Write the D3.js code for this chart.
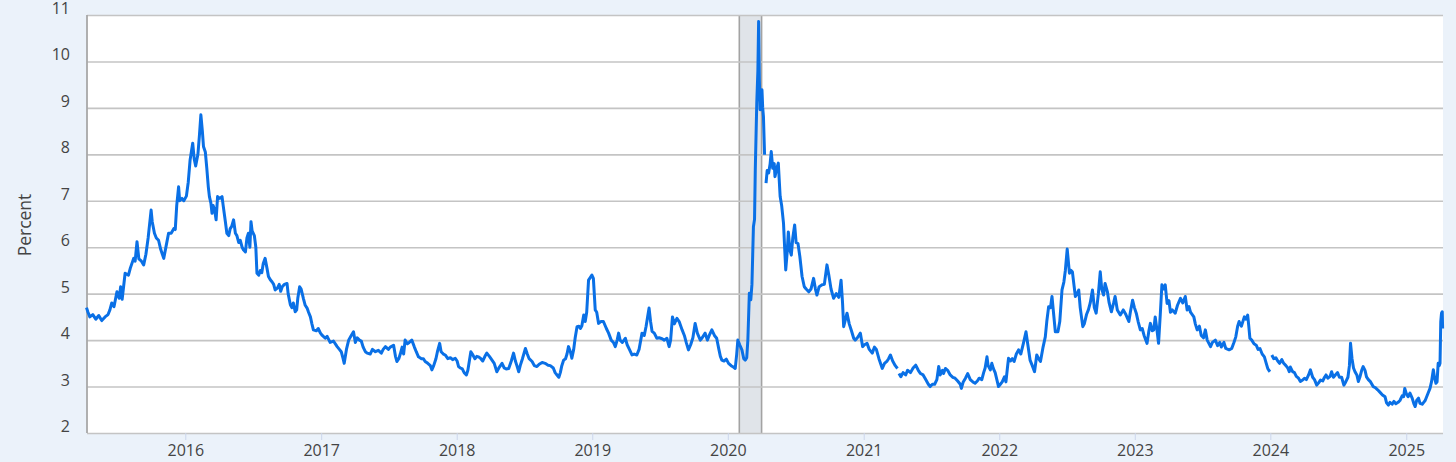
<!DOCTYPE html>
<html>
<head>
<meta charset="utf-8">
<script src="https://cdn.jsdelivr.net/npm/d3@7"></script>
<style>
  html, body { margin: 0; padding: 0; background: #ebf2fa; }
  svg { display: block; font-family: "Open Sans", "Noto Sans", sans-serif; }
</style>
</head>
<body>
<svg id="chart" width="1456" height="462"></svg>
<script>
// ---------------- DATA ----------------
const yTicks = [2, 3, 4, 5, 6, 7, 8, 9, 10, 11];
const xTickYears = [2016, 2017, 2018, 2019, 2020, 2021, 2022, 2023, 2024, 2025];
const yAxisTitle = "Percent";
const recession = ["2020-02-01", "2020-04-01"];
const dateRange = ["2015-04-10", "2025-04-10"];

const obs2015 = [
  ["2015-04-10",4.70],["2015-04-14",4.60],["2015-04-19",4.50],["2015-04-27",4.55],["2015-05-05",4.45],
  ["2015-05-13",4.53],["2015-05-21",4.42],["2015-05-30",4.50],["2015-06-07",4.55],["2015-06-12",4.65],
  ["2015-06-17",4.80],["2015-06-23",4.72],["2015-07-01",5.04],["2015-07-07",4.90],["2015-07-11",5.15],
  ["2015-07-15",4.88],["2015-07-23",5.44],["2015-08-01",5.40],["2015-08-06",5.55],["2015-08-15",5.76],
  ["2015-08-19",5.70],["2015-08-24",6.12],["2015-08-29",5.75],["2015-09-05",5.70],["2015-09-11",5.62],
  ["2015-09-17",5.85],["2015-09-23",6.20],["2015-10-01",6.80],["2015-10-04",6.55],["2015-10-10",6.30],
  ["2015-10-15",6.20],["2015-10-21",6.15],["2015-10-27",5.95],["2015-11-04",5.76],["2015-11-11",6.05],
  ["2015-11-17",6.30],["2015-11-24",6.30],["2015-12-01",6.40],["2015-12-05",6.38],["2015-12-09",6.90],
  ["2015-12-14",7.30],["2015-12-17",7.00],["2015-12-23",7.05],["2015-12-28",7.00]
];
const obs2016 = [
  ["2016-01-04",7.10],["2016-01-09",7.40],["2016-01-14",7.88],["2016-01-21",8.24],["2016-01-25",7.90],
  ["2016-01-29",7.75],["2016-02-04",8.00],["2016-02-08",8.40],["2016-02-12",8.85],["2016-02-16",8.50],
  ["2016-02-19",8.17],["2016-02-24",8.05],["2016-02-28",7.70],["2016-03-03",7.30],["2016-03-06",7.09],
  ["2016-03-10",6.95],["2016-03-13",6.73],["2016-03-16",6.90],["2016-03-20",6.80],["2016-03-24",6.59],
  ["2016-03-28",7.09],["2016-04-03",7.05],["2016-04-09",7.09],["2016-04-12",6.90],["2016-04-18",6.55],
  ["2016-04-22",6.30],["2016-04-27",6.25],["2016-05-01",6.40],["2016-05-05",6.45],["2016-05-10",6.59],
  ["2016-05-15",6.30],["2016-05-19",6.25],["2016-05-24",6.10],["2016-05-28",6.15],["2016-06-02",6.00],
  ["2016-06-06",5.94],["2016-06-11",5.90],["2016-06-15",6.20],["2016-06-19",6.30],["2016-06-23",6.00],
  ["2016-06-26",6.55],["2016-06-29",6.35],["2016-07-05",6.25],["2016-07-09",6.00],["2016-07-12",5.44],
  ["2016-07-17",5.40],["2016-07-21",5.50],["2016-07-25",5.45],["2016-07-29",5.65],["2016-08-03",5.76],
  ["2016-08-08",5.55],["2016-08-12",5.37],["2016-08-17",5.30],["2016-08-22",5.25],["2016-08-26",5.20],
  ["2016-08-30",5.08],["2016-09-05",5.12],["2016-09-10",5.20],["2016-09-14",5.05],["2016-09-18",5.15],
  ["2016-09-24",5.20],["2016-10-01",5.22],["2016-10-04",5.00],["2016-10-10",4.76],["2016-10-14",4.70],
  ["2016-10-18",4.80],["2016-10-23",4.61],["2016-10-27",4.65],["2016-10-30",4.90],["2016-11-04",5.15],
  ["2016-11-08",5.10],["2016-11-14",4.90],["2016-11-19",4.75],["2016-11-24",4.69],["2016-11-28",4.60],
  ["2016-12-03",4.50],["2016-12-07",4.35],["2016-12-11",4.22],["2016-12-19",4.20],["2016-12-24",4.25],
  ["2016-12-30",4.15]
];
const obs2017 = [
  ["2017-01-04",4.10],["2017-01-12",4.04],["2017-01-17",4.08],["2017-01-25",3.95],["2017-02-03",3.98],
  ["2017-02-13",3.86],["2017-02-19",3.80],["2017-02-24",3.75],["2017-03-01",3.60],["2017-03-04",3.50],
  ["2017-03-10",3.80],["2017-03-16",4.00],["2017-03-23",4.10],["2017-03-29",4.18],["2017-04-03",3.95],
  ["2017-04-08",4.05],["2017-04-14",4.00],["2017-04-19",3.98],["2017-04-24",3.85],["2017-04-30",3.75],
  ["2017-05-05",3.72],["2017-05-13",3.70],["2017-05-19",3.80],["2017-05-27",3.75],["2017-06-04",3.78],
  ["2017-06-12",3.72],["2017-06-17",3.80],["2017-06-23",3.86],["2017-07-01",3.80],["2017-07-06",3.85],
  ["2017-07-15",3.89],["2017-07-20",3.65],["2017-07-24",3.54],["2017-07-29",3.60],["2017-08-02",3.70],
  ["2017-08-07",3.85],["2017-08-11",3.70],["2017-08-15",4.00],["2017-08-21",3.92],["2017-08-26",3.95],
  ["2017-09-02",4.00],["2017-09-09",3.85],["2017-09-14",3.75],["2017-09-20",3.64],["2017-09-28",3.60],
  ["2017-10-03",3.60],["2017-10-08",3.54],["2017-10-15",3.50],["2017-10-22",3.45],["2017-10-26",3.36],
  ["2017-10-31",3.45],["2017-11-06",3.60],["2017-11-10",3.75],["2017-11-16",3.93],["2017-11-20",3.75],
  ["2017-11-26",3.70],["2017-12-01",3.68],["2017-12-08",3.60],["2017-12-15",3.62],["2017-12-21",3.58],
  ["2017-12-28",3.61]
];
const obs2018 = [
  ["2018-01-02",3.55],["2018-01-06",3.43],["2018-01-11",3.40],["2018-01-16",3.38],["2018-01-21",3.30],
  ["2018-01-27",3.25],["2018-01-31",3.35],["2018-02-04",3.55],["2018-02-08",3.75],["2018-02-12",3.70],
  ["2018-02-19",3.60],["2018-02-24",3.65],["2018-03-01",3.64],["2018-03-07",3.60],["2018-03-12",3.55],
  ["2018-03-18",3.65],["2018-03-23",3.72],["2018-03-30",3.65],["2018-04-06",3.57],["2018-04-12",3.50],
  ["2018-04-19",3.32],["2018-04-26",3.42],["2018-05-03",3.50],["2018-05-09",3.40],["2018-05-14",3.38],
  ["2018-05-21",3.39],["2018-05-28",3.55],["2018-06-03",3.72],["2018-06-08",3.55],["2018-06-12",3.45],
  ["2018-06-17",3.32],["2018-06-21",3.45],["2018-06-27",3.60],["2018-07-05",3.82],["2018-07-10",3.70],
  ["2018-07-15",3.60],["2018-07-23",3.54],["2018-07-29",3.45],["2018-08-05",3.43],["2018-08-11",3.48],
  ["2018-08-19",3.52],["2018-08-27",3.50],["2018-09-04",3.46],["2018-09-10",3.45],["2018-09-18",3.40],
  ["2018-09-23",3.30],["2018-09-28",3.25],["2018-10-03",3.20],["2018-10-07",3.30],["2018-10-11",3.45],
  ["2018-10-16",3.57],["2018-10-21",3.60],["2018-10-25",3.70],["2018-10-29",3.86],["2018-11-03",3.75],
  ["2018-11-07",3.61],["2018-11-12",3.80],["2018-11-16",4.05],["2018-11-21",4.29],["2018-11-26",4.30],
  ["2018-11-30",4.25],["2018-12-04",4.31],["2018-12-09",4.54],["2018-12-13",4.40],["2018-12-17",4.60],
  ["2018-12-22",5.29],["2018-12-27",5.35],["2018-12-31",5.40]
];
const obs2019 = [
  ["2019-01-04",5.33],["2019-01-09",4.65],["2019-01-13",4.60],["2019-01-18",4.36],["2019-01-24",4.40],
  ["2019-01-31",4.40],["2019-02-08",4.25],["2019-02-14",4.15],["2019-02-21",4.00],["2019-02-27",3.95],
  ["2019-03-04",3.86],["2019-03-09",4.00],["2019-03-13",4.15],["2019-03-17",4.00],["2019-03-23",3.95],
  ["2019-03-31",4.04],["2019-04-05",3.90],["2019-04-11",3.80],["2019-04-18",3.68],["2019-04-24",3.70],
  ["2019-05-01",3.68],["2019-05-07",3.80],["2019-05-15",4.15],["2019-05-21",4.10],["2019-05-26",4.30],
  ["2019-05-30",4.50],["2019-06-03",4.69],["2019-06-07",4.40],["2019-06-11",4.19],["2019-06-17",4.15],
  ["2019-06-24",4.04],["2019-06-30",4.05],["2019-07-08",4.03],["2019-07-14",4.00],["2019-07-21",4.04],
  ["2019-07-27",3.86],["2019-07-31",4.00],["2019-08-05",4.50],["2019-08-10",4.35],["2019-08-17",4.47],
  ["2019-08-23",4.40],["2019-08-31",4.22],["2019-09-06",4.10],["2019-09-11",3.95],["2019-09-17",3.79],
  ["2019-09-23",3.90],["2019-09-29",4.05],["2019-10-05",4.36],["2019-10-11",4.15],["2019-10-19",4.00],
  ["2019-10-24",4.05],["2019-11-01",4.15],["2019-11-07",4.00],["2019-11-12",4.10],["2019-11-19",4.22],
  ["2019-11-26",4.10],["2019-12-02",4.04],["2019-12-08",3.80],["2019-12-12",3.65],["2019-12-16",3.57],
  ["2019-12-22",3.55],["2019-12-28",3.59]
];
const obs2020 = [
  ["2020-01-03",3.50],["2020-01-10",3.45],["2020-01-16",3.42],["2020-01-21",3.39],["2020-01-25",3.70],
  ["2020-01-28",4.00],["2020-02-02",3.90],["2020-02-08",3.79],["2020-02-13",3.60],["2020-02-17",3.57],
  ["2020-02-21",3.62],["2020-02-24",4.00],["2020-02-28",5.01],["2020-03-03",4.87],["2020-03-06",5.20],
  ["2020-03-10",6.44],["2020-03-13",6.60],["2020-03-15",7.66],["2020-03-19",9.10],["2020-03-22",9.80],
  ["2020-03-24",10.86],["2020-03-26",9.60],["2020-03-28",8.96],["2020-03-31",9.10],["2020-04-02",9.39],
  ["2020-04-04",9.00],["2020-04-06",8.81],["2020-04-09",7.99],["2020-04-10",null],["2020-04-13",7.38],
  ["2020-04-16",7.65],["2020-04-20",7.60],["2020-04-24",7.80],["2020-04-27",8.06],["2020-05-01",7.70],
  ["2020-05-05",7.80],["2020-05-07",7.52],["2020-05-12",7.70],["2020-05-16",7.81],["2020-05-21",7.09],
  ["2020-05-25",6.90],["2020-05-30",6.52],["2020-06-02",6.00],["2020-06-05",5.51],["2020-06-09",5.90],
  ["2020-06-12",6.33],["2020-06-16",5.95],["2020-06-20",5.83],["2020-06-24",6.20],["2020-06-29",6.48],
  ["2020-07-03",6.10],["2020-07-08",6.08],["2020-07-13",5.80],["2020-07-19",5.37],["2020-07-25",5.15],
  ["2020-07-30",5.10],["2020-08-06",5.04],["2020-08-12",5.10],["2020-08-19",5.33],["2020-08-24",5.10],
  ["2020-08-28",4.97],["2020-09-03",5.15],["2020-09-11",5.19],["2020-09-17",5.20],["2020-09-24",5.62],
  ["2020-09-29",5.40],["2020-10-05",5.10],["2020-10-12",4.90],["2020-10-19",5.00],["2020-10-26",4.92],
  ["2020-11-01",5.29],["2020-11-05",4.80],["2020-11-08",4.29],["2020-11-13",4.45],["2020-11-17",4.58],
  ["2020-11-23",4.35],["2020-11-29",4.20],["2020-12-05",4.04],["2020-12-09",4.00],["2020-12-15",4.05],
  ["2020-12-23",4.15],["2020-12-29",3.86]
];
const obs2021 = [
  ["2021-01-03",3.90],["2021-01-10",3.93],["2021-01-16",3.80],["2021-01-24",3.72],["2021-01-30",3.85],
  ["2021-02-04",3.80],["2021-02-11",3.60],["2021-02-20",3.39],["2021-02-26",3.50],["2021-03-05",3.55],
  ["2021-03-09",3.60],["2021-03-14",3.68],["2021-03-20",3.55],["2021-03-27",3.45],["2021-04-02",3.39],
  ["2021-04-04",null],["2021-04-06",3.28],["2021-04-11",3.21],["2021-04-17",3.30],["2021-04-24",3.25],
  ["2021-04-29",3.35],["2021-05-07",3.30],["2021-05-14",3.40],["2021-05-21",3.46],["2021-05-28",3.35],
  ["2021-06-03",3.28],["2021-06-10",3.25],["2021-06-17",3.15],["2021-06-24",3.05],["2021-06-29",3.00],
  ["2021-07-05",3.05],["2021-07-11",3.05],["2021-07-17",3.15],["2021-07-22",3.43],["2021-07-26",3.25],
  ["2021-08-01",3.35],["2021-08-04",3.28],["2021-08-09",3.39],["2021-08-15",3.35],["2021-08-22",3.25],
  ["2021-08-29",3.20],["2021-09-04",3.18],["2021-09-11",3.12],["2021-09-18",3.05],["2021-09-21",2.96],
  ["2021-09-26",3.10],["2021-10-02",3.18],["2021-10-08",3.28],["2021-10-15",3.15],["2021-10-22",3.10],
  ["2021-10-28",3.07],["2021-11-03",3.12],["2021-11-08",3.18],["2021-11-15",3.15],["2021-11-20",3.30],
  ["2021-11-24",3.40],["2021-11-29",3.64],["2021-12-02",3.45],["2021-12-08",3.36],["2021-12-12",3.50],
  ["2021-12-16",3.39],["2021-12-21",3.30],["2021-12-27",3.10],["2021-12-30",3.00]
];
const obs2022 = [
  ["2022-01-04",3.05],["2022-01-09",3.10],["2022-01-15",3.21],["2022-01-19",3.10],["2022-01-23",3.40],
  ["2022-01-26",3.61],["2022-01-31",3.55],["2022-02-05",3.60],["2022-02-10",3.54],["2022-02-16",3.70],
  ["2022-02-22",3.79],["2022-02-28",3.70],["2022-03-07",3.93],["2022-03-14",4.18],["2022-03-19",3.90],
  ["2022-03-25",3.57],["2022-03-31",3.45],["2022-04-06",3.32],["2022-04-12",3.68],["2022-04-17",3.60],
  ["2022-04-22",3.54],["2022-04-29",3.85],["2022-05-05",4.07],["2022-05-09",4.40],["2022-05-14",4.72],
  ["2022-05-19",4.70],["2022-05-23",4.94],["2022-05-27",4.60],["2022-06-01",4.18],["2022-06-08",4.18],
  ["2022-06-13",4.40],["2022-06-19",5.08],["2022-06-24",5.25],["2022-06-28",5.50],["2022-07-03",5.96],
  ["2022-07-06",5.70],["2022-07-09",5.44],["2022-07-13",5.50],["2022-07-17",5.47],["2022-07-21",5.20],
  ["2022-07-25",4.94],["2022-07-30",5.00],["2022-08-03",5.08],["2022-08-07",4.70],["2022-08-14",4.29],
  ["2022-08-18",4.35],["2022-08-24",4.55],["2022-08-29",4.65],["2022-09-03",4.80],["2022-09-09",5.08],
  ["2022-09-14",4.70],["2022-09-19",4.58],["2022-09-25",5.00],["2022-09-30",5.47],["2022-10-04",5.10],
  ["2022-10-09",4.97],["2022-10-13",5.22],["2022-10-19",5.05],["2022-10-24",4.80],["2022-10-30",4.61],
  ["2022-11-05",4.80],["2022-11-09",4.94],["2022-11-15",4.65],["2022-11-23",4.54],["2022-12-01",4.65],
  ["2022-12-08",4.55],["2022-12-16",4.40],["2022-12-20",4.60],["2022-12-26",4.86],["2022-12-31",4.70]
];
const obs2023 = [
  ["2023-01-05",4.58],["2023-01-10",4.40],["2023-01-16",4.22],["2023-01-21",4.25],["2023-01-26",4.10],
  ["2023-02-03",3.93],["2023-02-08",4.20],["2023-02-12",4.36],["2023-02-17",4.20],["2023-02-21",4.22],
  ["2023-02-25",4.50],["2023-03-02",4.20],["2023-03-06",3.93],["2023-03-11",4.60],["2023-03-15",5.19],
  ["2023-03-20",5.10],["2023-03-24",5.19],["2023-03-29",4.79],["2023-04-03",4.85],["2023-04-07",4.60],
  ["2023-04-12",4.65],["2023-04-20",4.58],["2023-04-26",4.75],["2023-05-04",4.90],["2023-05-10",4.80],
  ["2023-05-17",4.94],["2023-05-22",4.65],["2023-05-27",4.72],["2023-05-31",4.60],["2023-06-09",4.50],
  ["2023-06-13",4.35],["2023-06-18",4.22],["2023-06-24",4.30],["2023-06-29",4.10],["2023-07-05",4.05],
  ["2023-07-10",4.22],["2023-07-15",4.00],["2023-07-24",3.86],["2023-07-29",3.95],["2023-08-06",4.00],
  ["2023-08-12",3.88],["2023-08-18",3.95],["2023-08-22",3.85],["2023-08-29",3.95],["2023-09-03",3.82],
  ["2023-09-12",3.79],["2023-09-19",3.82],["2023-09-25",3.95],["2023-09-30",4.07],["2023-10-05",4.30],
  ["2023-10-09",4.40],["2023-10-15",4.30],["2023-10-23",4.50],["2023-10-27",4.45],["2023-11-01",4.54],
  ["2023-11-04",4.30],["2023-11-07",4.04],["2023-11-12",4.00],["2023-11-18",3.92],["2023-11-24",3.89],
  ["2023-11-29",3.80],["2023-12-04",3.82],["2023-12-10",3.70],["2023-12-16",3.64],["2023-12-21",3.50],
  ["2023-12-25",3.39],["2023-12-28",3.35],["2023-12-31",3.32]
];
const obs2024 = [
  ["2024-01-02",null],["2024-01-05",3.68],["2024-01-10",3.60],["2024-01-16",3.62],["2024-01-21",3.55],
  ["2024-01-26",3.50],["2024-02-01",3.58],["2024-02-06",3.50],["2024-02-12",3.45],["2024-02-17",3.40],
  ["2024-02-21",3.32],["2024-02-24",3.42],["2024-03-01",3.32],["2024-03-06",3.30],["2024-03-11",3.22],
  ["2024-03-17",3.18],["2024-03-22",3.11],["2024-03-28",3.14],["2024-04-02",3.18],["2024-04-07",3.15],
  ["2024-04-13",3.25],["2024-04-18",3.36],["2024-04-24",3.20],["2024-04-29",3.15],["2024-05-05",3.03],
  ["2024-05-10",3.08],["2024-05-15",3.14],["2024-05-21",3.12],["2024-05-26",3.20],["2024-05-30",3.25],
  ["2024-06-04",3.18],["2024-06-10",3.22],["2024-06-14",3.32],["2024-06-19",3.20],["2024-06-24",3.25],
  ["2024-06-30",3.30],["2024-07-05",3.20],["2024-07-11",3.20],["2024-07-17",3.03],["2024-07-22",3.10],
  ["2024-07-28",3.20],["2024-08-01",3.45],["2024-08-04",3.93],["2024-08-08",3.60],["2024-08-12",3.40],
  ["2024-08-16",3.32],["2024-08-21",3.25],["2024-08-25",3.11],["2024-08-29",3.20],["2024-09-03",3.35],
  ["2024-09-07",3.43],["2024-09-12",3.35],["2024-09-16",3.21],["2024-09-21",3.15],["2024-09-27",3.10],
  ["2024-10-04",3.00],["2024-10-09",2.98],["2024-10-16",2.93],["2024-10-22",2.88],["2024-10-29",2.82],
  ["2024-11-05",2.78],["2024-11-09",2.65],["2024-11-14",2.60],["2024-11-18",2.66],["2024-11-24",2.62],
  ["2024-11-29",2.68],["2024-12-04",2.63],["2024-12-10",2.66],["2024-12-15",2.70],["2024-12-21",2.80],
  ["2024-12-25",2.78],["2024-12-28",2.96]
];
const obs2025 = [
  ["2025-01-01",2.85],["2025-01-06",2.78],["2025-01-11",2.86],["2025-01-17",2.75],["2025-01-22",2.62],
  ["2025-01-25",2.57],["2025-01-29",2.70],["2025-02-03",2.75],["2025-02-07",2.64],["2025-02-13",2.62],
  ["2025-02-17",2.66],["2025-02-21",2.70],["2025-02-25",2.78],["2025-03-01",2.86],["2025-03-06",2.96],
  ["2025-03-10",3.10],["2025-03-15",3.36],["2025-03-18",3.20],["2025-03-22",3.07],["2025-03-25",3.10],
  ["2025-03-28",3.50],["2025-03-31",3.45],["2025-04-02",3.50],["2025-04-04",4.40],["2025-04-06",4.58],
  ["2025-04-08",4.61],["2025-04-09",4.25]
];

// ---------------- CHART ----------------
const parse = d3.utcParse("%Y-%m-%d");
const series = [].concat(obs2015, obs2016, obs2017, obs2018, obs2019, obs2020,
                         obs2021, obs2022, obs2023, obs2024, obs2025)
  .map(d => ({ date: parse(d[0]), value: d[1] }));

const plot = { left: 87, right: 1443, top: 15, bottom: 433 };
const svg = d3.select("#chart");

const x = d3.scaleUtc()
  .domain(dateRange.map(parse))
  .range([86.5, 1443]);
const y = d3.scaleLinear()
  .domain([d3.min(yTicks), d3.max(yTicks)])
  .range([plot.bottom, plot.top]);

// page background
svg.append("rect").attr("x", 0).attr("y", 0).attr("width", 1456).attr("height", 462)
  .attr("fill", "#ebf2fa");
// plot background
svg.append("rect")
  .attr("x", plot.left).attr("y", plot.top)
  .attr("width", plot.right - plot.left).attr("height", plot.bottom - plot.top)
  .attr("fill", "#ffffff");

// recession band
const rx0 = x(parse(recession[0])), rx1 = x(parse(recession[1]));
svg.append("rect")
  .attr("x", rx0).attr("y", plot.top)
  .attr("width", rx1 - rx0).attr("height", plot.bottom - plot.top)
  .attr("fill", "#e0e4e9");
[rx0, rx1].forEach(px => {
  svg.append("line")
    .attr("x1", px).attr("x2", px).attr("y1", plot.top).attr("y2", plot.bottom)
    .attr("stroke", "#a3a3a3").attr("stroke-width", 1.6);
});

// y axis with gridlines
const yAxis = d3.axisLeft(y)
  .tickValues(yTicks)
  .tickFormat(d3.format("d"))
  .tickSizeInner(-(plot.right - plot.left))
  .tickSizeOuter(0)
  .tickPadding(17);
const gy = svg.append("g").attr("transform", `translate(${plot.left},0)`).call(yAxis);
gy.select(".domain").remove();
gy.selectAll(".tick line").attr("stroke", "#c4c4c4").attr("stroke-width", 1.6);
gy.selectAll(".tick text")
  .attr("fill", "#444").attr("font-size", 16).attr("dy", "-1.5px")
  .style("font-family", "'Open Sans', sans-serif");

// x axis
const xAxis = d3.axisBottom(x)
  .tickValues(xTickYears.map(yr => new Date(Date.UTC(yr, 0, 1))))
  .tickFormat(d3.utcFormat("%Y"))
  .tickSizeInner(7)
  .tickSizeOuter(0)
  .tickPadding(5);
const gx = svg.append("g").attr("transform", `translate(0,${plot.bottom})`).call(xAxis);
gx.select(".domain").remove();
gx.selectAll(".tick line").attr("stroke", "#ccd6eb").attr("stroke-width", 1);
gx.selectAll(".tick text")
  .attr("fill", "#444").attr("font-size", 16)
  .style("font-family", "'Open Sans', sans-serif");

// left axis line
svg.append("line")
  .attr("x1", plot.left).attr("x2", plot.left)
  .attr("y1", plot.top).attr("y2", plot.bottom)
  .attr("stroke", "#a8a8a8").attr("stroke-width", 1.8);

// data line
const line = d3.line()
  .defined(d => d.value !== null)
  .x(d => x(d.date))
  .y(d => y(d.value));
svg.append("path")
  .datum(series)
  .attr("fill", "none")
  .attr("stroke", "#0a70e6")
  .attr("stroke-width", 3)
  .attr("stroke-linejoin", "round")
  .attr("d", line);

// y axis title
svg.append("text")
  .attr("transform", `translate(30.5,${(plot.top + plot.bottom) / 2 + 1}) rotate(-90)`)
  .attr("text-anchor", "middle")
  .attr("font-size", 17.5)
  .attr("fill", "#444")
  .text(yAxisTitle);
</script>
</body>
</html>
